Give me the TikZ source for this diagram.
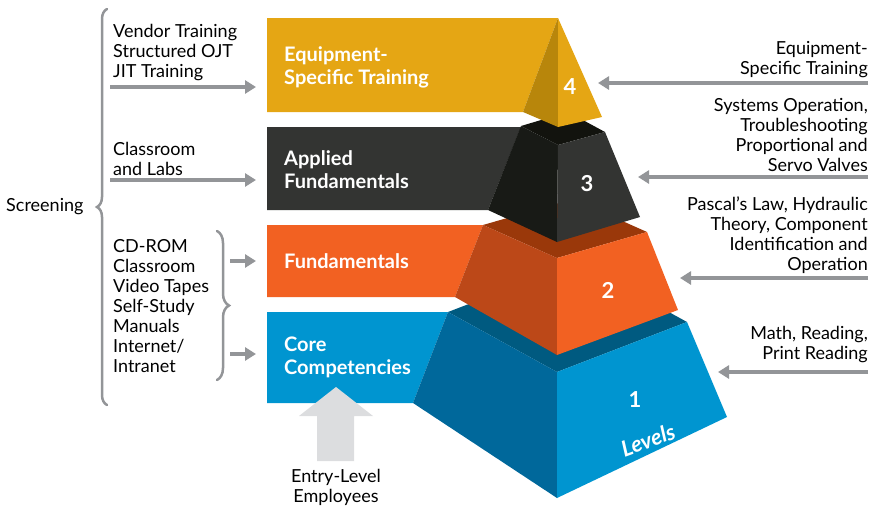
\documentclass[tikz,border=0pt]{standalone}
\usepackage{fontspec}
\setmainfont{Lato}
\usetikzlibrary{arrows.meta,decorations.pathreplacing}

\definecolor{arrowgray}{HTML}{939598}
\definecolor{entrygray}{HTML}{DCDDDF}
\definecolor{gold}{HTML}{E5A614}
\definecolor{golddark}{HTML}{B8860B}
\definecolor{coal}{HTML}{333432}
\definecolor{coalside}{HTML}{181A16}
\definecolor{coaltop}{HTML}{12130E}
\definecolor{rust}{HTML}{F26122}
\definecolor{rustside}{HTML}{BC4818}
\definecolor{rusttop}{HTML}{9A380A}
\definecolor{sky}{HTML}{0095D0}
\definecolor{skyside}{HTML}{00689B}
\definecolor{skytop}{HTML}{005A80}

\tikzset{
  flow/.style={draw=arrowgray, line width=3.5pt, -{Triangle[length=11pt,width=13pt]}},
  curly/.style={draw=arrowgray, line width=2.5pt, line cap=round,
                decorate, decoration={brace, amplitude=#1}},
  bandlabel/.style={text=white, font=\bfseries\fontsize{20}{23}\selectfont,
                    align=left, anchor=west, inner sep=0pt},
  levelno/.style={text=white, font=\bfseries\fontsize{22}{22}\selectfont, inner sep=0pt},
}

\begin{document}
\begin{tikzpicture}[x=1pt,y=-1pt]
\useasboundingbox (0,0) rectangle (871,506);

% level 1
\fill[sky] (267,312) -- (448,312) -- (413,403) -- (267,403) -- cycle;
\fill[skytop] (448,312) -- (578,262) -- (687,322) -- (557,372) -- cycle;
\fill[skyside] (448,312) -- (557,372) -- (557,498) -- (413,403) -- cycle;
\fill[sky] (557,372) -- (687,322) -- (727,417) -- (557,498) -- cycle;
% level 2
\fill[rust] (267,225) -- (483,225) -- (455,297) -- (267,297) -- cycle;
\fill[rusttop] (483,225) -- (573,199) -- (647,232) -- (557,258) -- cycle;
\fill[rustside] (483,225) -- (557,258) -- (557,355) -- (455,297) -- cycle;
\fill[rust] (557,258) -- (647,232) -- (678,310) -- (557,355) -- cycle;
% level 3
\fill[coal] (267,127) -- (521,127) -- (488,210) -- (267,210) -- cycle;
\fill[coaltop] (521,126) -- (568,112) -- (605,132) -- (558,145) -- cycle;
\fill[coalside] (521,126) -- (558,145) -- (557,242) -- (488,210) -- cycle;
\fill[coal] (558,145) -- (605,132) -- (640,217) -- (557,242) -- cycle;
% level 4
\fill[gold] (267,18) -- (558,18) -- (523,112) -- (267,112) -- cycle;
\fill[golddark] (558,18) -- (523,112) -- (558,127) -- cycle;
\fill[gold] (558,18) -- (558,127) -- (602,117) -- cycle;

\node[bandlabel] (equip)  at (284,67)  {Equipment-\\Specific Training};
\node[bandlabel] (applied) at (284,170) {Applied\\Fundamentals};
\node[bandlabel] (fund)   at (284,261) {Fundamentals};
\node[bandlabel] (core)   at (284,357) {Core\\Competencies};

\node[levelno] (l4) at (570,87)  {4};
\node[levelno] (l3) at (587,184) {3};
\node[levelno] (l2) at (608,290) {2};
\node[levelno] (l1) at (635,400) {1};
\node[levelno, font=\bfseries\itshape\fontsize{22}{22}\selectfont, rotate=20]
  (levels) at (648,440) {Levels};

\begin{scope}[every node/.style={font=\fontsize{18}{20}\selectfont, inner sep=0pt}]
    \node[anchor=west, align=left] (vendor) at (113,53) {Vendor Training\\Structured OJT\\JIT Training};
    \node[anchor=west, align=left] (labs)   at (113,159) {Classroom\\and Labs};
    \node[anchor=west, align=left] (media)  at (113,306) {CD-ROM\\Classroom\\Video Tapes\\Self-Study\\Manuals\\Internet/\\Intranet};
    \node[anchor=west] (screen) at (6,207) {Screening};
    \node[anchor=east, align=right] (rt4) at (868,60)  {Equipment-\\Specific Training};
    \node[anchor=east, align=right] (rt3) at (868,135) {Systems Operation,\\Troubleshooting\\Proportional and\\Servo Valves};
    \node[anchor=east, align=right] (rt2) at (868,235) {Pascal's Law, Hydraulic\\Theory, Component\\Identification and\\Operation};
    \node[anchor=east, align=right] (rt1) at (868,345) {Math, Reading,\\Print Reading};
    \node[align=center] (entry) at (336,487) {Entry-Level\\Employees};
\end{scope}

% arrow ends
\coordinate (a4s) at (110,87);  \coordinate (a4e) at (256,87);
\coordinate (a3s) at (110,180); \coordinate (a3e) at (256,180);
\coordinate (a2s) at (230,261); \coordinate (a2e) at (256,261);
\coordinate (a1s) at (230,354); \coordinate (a1e) at (256,354);
\coordinate (b4s) at (868,83);  \coordinate (b4e) at (598,83);
\coordinate (b3s) at (868,177); \coordinate (b3e) at (638,177);
\coordinate (b2s) at (868,278); \coordinate (b2e) at (680,278);
\coordinate (b1s) at (868,372); \coordinate (b1e) at (718,372);

\path (a4s) edge[flow] (a4e) (a3s) edge[flow] (a3e) (a2s) edge[flow] (a2e) (a1s) edge[flow] (a1e);
\path (b4s) edge[flow] (b4e) (b3s) edge[flow] (b3e) (b2s) edge[flow] (b2e) (b1s) edge[flow] (b1e);

% braces
\coordinate (big1) at (107,405); \coordinate (big2) at (107,9);
\coordinate (small1) at (217,231); \coordinate (small2) at (217,380);
\draw[curly=10pt] (big1) -- (big2);
\draw[curly=12pt] (small1) -- (small2);

% entry arrow
\fill[entrygray] (317,461) -- (317,416) -- (299,416) -- (336,387) -- (373,416)
  -- (354,416) -- (354,461) -- cycle;
\end{tikzpicture}
\end{document}
